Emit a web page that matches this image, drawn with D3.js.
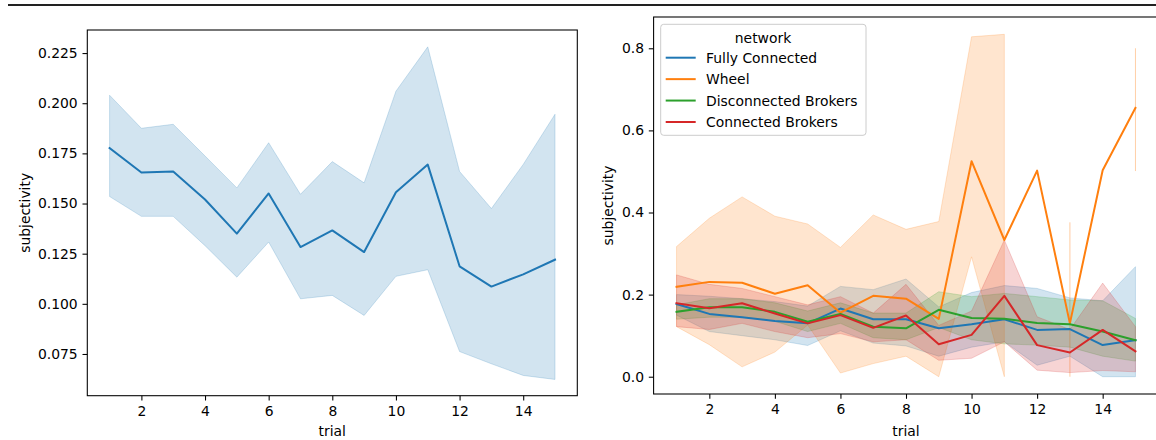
<!DOCTYPE html>
<html><head><meta charset="utf-8">
<script src="https://cdn.jsdelivr.net/npm/d3@7"></script>
<style>
body{margin:0;background:#fff}
svg{display:block}
text{font-family:"DejaVu Sans",sans-serif;fill:#000}
</style>
</head><body>
<svg id="c" width="1156" height="440"></svg>
<script>
// ---------- data ----------
const trials = [1,2,3,4,5,6,7,8,9,10,11,12,13,14,15];
const xTicks = [2,4,6,8,10,12,14];
const leftYTicks = [0.075,0.100,0.125,0.150,0.175,0.200,0.225];
const rightYTicks = [0.0,0.2,0.4,0.6,0.8];

// left panel: all networks pooled
const allMean = [0.1776,0.1655,0.166,0.152,0.135,0.155,0.1283,0.1366,0.1258,0.1556,0.1694,0.1187,0.1086,0.1147,0.122];
const allHi   = [0.204,0.1875,0.1895,0.1737,0.1578,0.1803,0.1546,0.1709,0.1603,0.206,0.2281,0.166,0.1475,0.1695,0.1945];
const allLo   = [0.1535,0.1436,0.1436,0.129,0.1133,0.1308,0.1025,0.1042,0.0942,0.1137,0.117,0.0762,0.0701,0.0643,0.0623];

// right panel: by network
const networks = ["Fully Connected","Wheel","Disconnected Brokers","Connected Brokers"];
const colors = ["#1f77b4","#ff7f0e","#2ca02c","#d62728"];

const fcMean = [0.177,0.153,0.145,0.136,0.130,0.166,0.140,0.140,0.118,0.128,0.140,0.114,0.116,0.077,0.089];
const fcHi   = [0.200,0.196,0.190,0.183,0.172,0.220,0.212,0.238,0.170,0.205,0.222,0.215,0.192,0.185,0.268];
const fcLo   = [0.150,0.110,0.100,0.090,0.076,0.112,0.082,0.075,0.050,0.072,0.085,0.028,0.050,0.000,0.000];

const wheelMean = [0.219,0.231,0.229,0.202,0.223,0.156,0.197,0.190,0.141,0.525,0.333,0.502,0.130,0.503,0.655];
const wheelHi   = [0.317,0.386,0.438,0.391,0.372,0.315,0.394,0.359,0.378,0.828,0.834,null,0.376,null,0.800];
const wheelLo   = [0.122,0.078,0.024,0.060,0.126,0.009,0.032,0.050,0.000,0.292,0.000,null,0.000,null,0.501];

const dbMean = [0.158,0.169,0.169,0.158,0.134,0.153,0.122,0.118,0.163,0.143,0.141,0.131,0.128,0.110,0.089];
const dbHi   = [0.175,0.190,0.190,0.180,0.160,0.180,0.155,0.155,0.207,0.195,0.203,0.195,0.187,0.185,0.142];
const dbLo   = [0.140,0.145,0.145,0.135,0.110,0.130,0.095,0.090,0.120,0.090,0.080,0.077,0.072,0.050,0.038];

const cbMean = [0.179,0.167,0.179,0.154,0.130,0.150,0.119,0.149,0.079,0.102,0.197,0.077,0.059,0.114,0.062];
const cbHi   = [0.248,0.225,0.215,0.195,0.175,0.195,0.155,0.225,0.125,0.160,0.333,0.146,0.115,0.228,0.122];
const cbLo   = [0.122,0.115,0.130,0.110,0.095,0.105,0.085,0.090,0.040,0.045,0.085,0.016,0.010,0.015,0.012];

const seriesMeans = [fcMean, wheelMean, dbMean, cbMean];
const seriesHi = [fcHi, wheelHi, dbHi, cbHi];
const seriesLo = [fcLo, wheelLo, dbLo, cbLo];

// ---------- drawing ----------
const svg = d3.select("#c");
const FS = 13.9;

svg.append("line").attr("x1",8).attr("x2",1156).attr("y1",5).attr("y2",5)
  .attr("stroke","#222").attr("stroke-width",2);

function rows(mean, lo, hi){
  return trials.map((t,i)=>({t, m:mean[i], lo:lo[i], hi:hi[i]}));
}

function drawPanel(p){
  const x = d3.scaleLinear().domain([0.3,15.7]).range([p.x0,p.x1]);
  const y = d3.scaleLinear().domain(p.yDom).range([p.y1,p.y0]);
  const g = svg.append("g");
  const clipId = "clip"+p.id;
  svg.append("clipPath").attr("id",clipId).append("rect")
    .attr("x",p.x0).attr("y",p.y0).attr("width",Math.min(p.x1,1156)-p.x0).attr("height",p.y1-p.y0);
  const plot = g.append("g").attr("clip-path",`url(#${clipId})`);

  const area = d3.area().defined(d=>d.lo!=null && d.hi!=null)
    .x(d=>x(d.t)).y0(d=>y(d.lo)).y1(d=>y(d.hi));
  const line = d3.line().x(d=>x(d.t)).y(d=>y(d.m));

  p.series.forEach(s=>{
    plot.append("path").datum(rows(s.mean,s.lo,s.hi)).attr("d",area)
      .attr("fill",s.color).attr("fill-opacity",0.2)
      .attr("stroke",s.color).attr("stroke-opacity",0.2).attr("stroke-width",1);
  });
  p.series.forEach(s=>{
    plot.append("path").datum(rows(s.mean,s.lo,s.hi)).attr("d",line)
      .attr("fill","none").attr("stroke",s.color).attr("stroke-width",2)
      .attr("stroke-linejoin","round").attr("stroke-linecap","square");
  });

  // axes
  const ax = g.append("g").attr("transform",`translate(0,${p.y1})`)
    .call(d3.axisBottom(x).tickValues(xTicks).tickSize(4.8).tickPadding(5.5).tickFormat(d3.format("d")));
  const ay = g.append("g").attr("transform",`translate(${p.x0},0)`)
    .call(d3.axisLeft(y).tickValues(p.yTicks).tickSize(4.8).tickPadding(4.8).tickFormat(d3.format(p.fmt)));
  [ax,ay].forEach(a=>{
    a.select(".domain").remove();
    a.attr("font-family",null).attr("font-size",null);
    a.selectAll("line").attr("stroke","#000").attr("stroke-width",1.07);
    a.selectAll("text").style("font-size",FS+"px").attr("fill","#000");
  });

  // spines
  g.append("rect").attr("x",p.x0).attr("y",p.y0).attr("width",p.x1-p.x0).attr("height",p.y1-p.y0)
    .attr("fill","none").attr("stroke","#000").attr("stroke-width",1.07);

  // labels
  g.append("text").attr("x",(p.x0+p.x1)/2).attr("y",436.3).attr("text-anchor","middle")
    .style("font-size",FS+"px").text("trial");
  g.append("text").attr("transform",`translate(${p.ylabX},${(p.y0+p.y1)/2}) rotate(-90)`)
    .attr("text-anchor","middle").style("font-size",FS+"px").text("subjectivity");
  return {x,y,g};
}

drawPanel({
  id:"L", x0:87.3, x1:577.3, y0:30, y1:395.7, yDom:[0.0542,0.2365],
  yTicks:leftYTicks, fmt:".3f", ylabX:30,
  series:[{mean:allMean, lo:allLo, hi:allHi, color:colors[0]}]
});

drawPanel({
  id:"R", x0:653.6, x1:1158.4, y0:17, y1:394, yDom:[-0.0421,0.8762],
  yTicks:rightYTicks, fmt:".1f", ylabX:613,
  series:networks.map((n,i)=>({mean:seriesMeans[i], lo:seriesLo[i], hi:seriesHi[i], color:colors[i]}))
});

// legend
const lg = svg.append("g");
lg.append("rect").attr("x",660.7).attr("y",24.3).attr("width",205.3).attr("height",111)
  .attr("rx",3).attr("fill","#fff").attr("fill-opacity",0.8).attr("stroke","#cccccc").attr("stroke-width",1);
lg.append("text").attr("x",763).attr("y",42.5).attr("text-anchor","middle")
  .style("font-size",FS+"px").text("network");
networks.forEach((n,i)=>{
  const cy = 57.7 + i*21.43;
  lg.append("line").attr("x1",665.7).attr("x2",695.7).attr("y1",cy).attr("y2",cy)
    .attr("stroke",colors[i]).attr("stroke-width",2);
  lg.append("text").attr("x",706).attr("y",cy+5).style("font-size",FS+"px").text(n);
});
</script>
</body></html>
